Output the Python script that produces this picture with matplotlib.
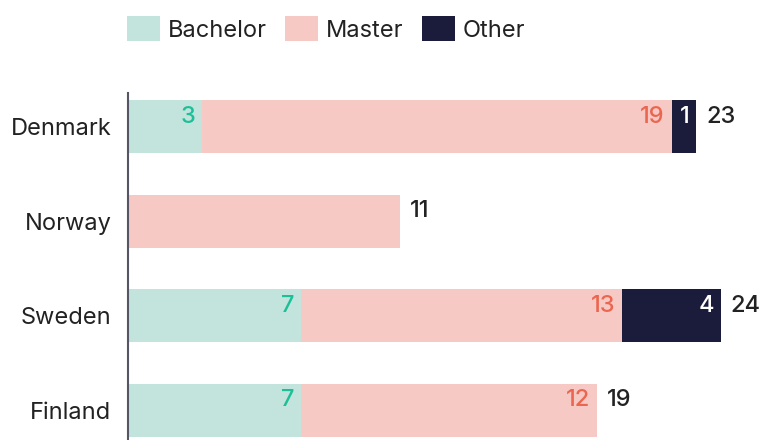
import matplotlib
matplotlib.use("Agg")
from matplotlib import pyplot as plt
from matplotlib.patches import Patch
import numpy as np

plt.rcParams['font.family'] = ['Inter', 'DejaVu Sans']
plt.rcParams['font.size'] = 17

countries = ["Denmark", "Norway", "Sweden", "Finland"]
bachelor = [3, 0, 7, 7]
master = [19, 11, 13, 12]
other = [1, 0, 4, 0]
totals = [23, 11, 24, 19]

c_bach = "#c2e4dc"
c_mast = "#f7c9c4"
c_oth = "#1b1b3c"
t_bach = "#1dbf98"
t_mast = "#eb6650"
t_oth = "#ffffff"
t_tot = "#222222"

W, H = 763, 440
fig = plt.figure(figsize=(W / 100, H / 100), dpi=100)
ax = fig.add_axes([128 / W, 0, 1 - 128 / W, 1 - 93 / H])

y = np.arange(len(countries))
bach = np.array(bachelor)
mast = np.array(master)
oth = np.array(other)

h = 0.56
ax.barh(y, bach, height=h, color=c_bach)
ax.barh(y, mast, left=bach, height=h, color=c_mast)
ax.barh(y, oth, left=bach + mast, height=h, color=c_oth)

def seg_label(x, yy, val, color):
    ax.annotate(str(val), xy=(x, yy), xytext=(-5, 7), textcoords="offset points",
                ha="right", va="center", color=color, fontsize=17,
                fontweight="medium")

for i in range(len(countries)):
    if bach[i] > 0:
        seg_label(bach[i], y[i], bach[i], t_bach)
    if mast[i] > 0 and (bach[i] > 0 or oth[i] > 0):
        seg_label(bach[i] + mast[i], y[i], mast[i], t_mast)
    if oth[i] > 0:
        seg_label(bach[i] + mast[i] + oth[i], y[i], oth[i], t_oth)
    ax.annotate(str(totals[i]), xy=(bach[i] + mast[i] + oth[i], y[i]), xytext=(7, 7),
                textcoords="offset points", ha="left", va="center", color=t_tot,
                fontsize=17, fontweight="medium")

ax.set_xlim(0, 25.7)
ax.set_ylim(3.317, -0.355)
ax.set_yticks(y)
ax.set_yticklabels(countries, fontsize=17, color="#222222")
ax.tick_params(axis="y", length=0, pad=12)
ax.set_xticks([])
for s in ["top", "right", "bottom"]:
    ax.spines[s].set_visible(False)
ax.spines["left"].set_color("#555566")
ax.spines["left"].set_linewidth(1.5)

handles = [Patch(facecolor=c_bach, label="Bachelor"),
           Patch(facecolor=c_mast, label="Master"),
           Patch(facecolor=c_oth, label="Other")]
fig.legend(handles=handles, loc="center left", bbox_to_anchor=(127 / W, 1 - 29 / H),
           ncol=3, frameon=False, fontsize=17, handlelength=1.4, handleheight=1.25,
           handletextpad=0.35, columnspacing=0.75, labelcolor="#222222",
           borderpad=0, borderaxespad=0)

fig.savefig("out.png", dpi=100)
